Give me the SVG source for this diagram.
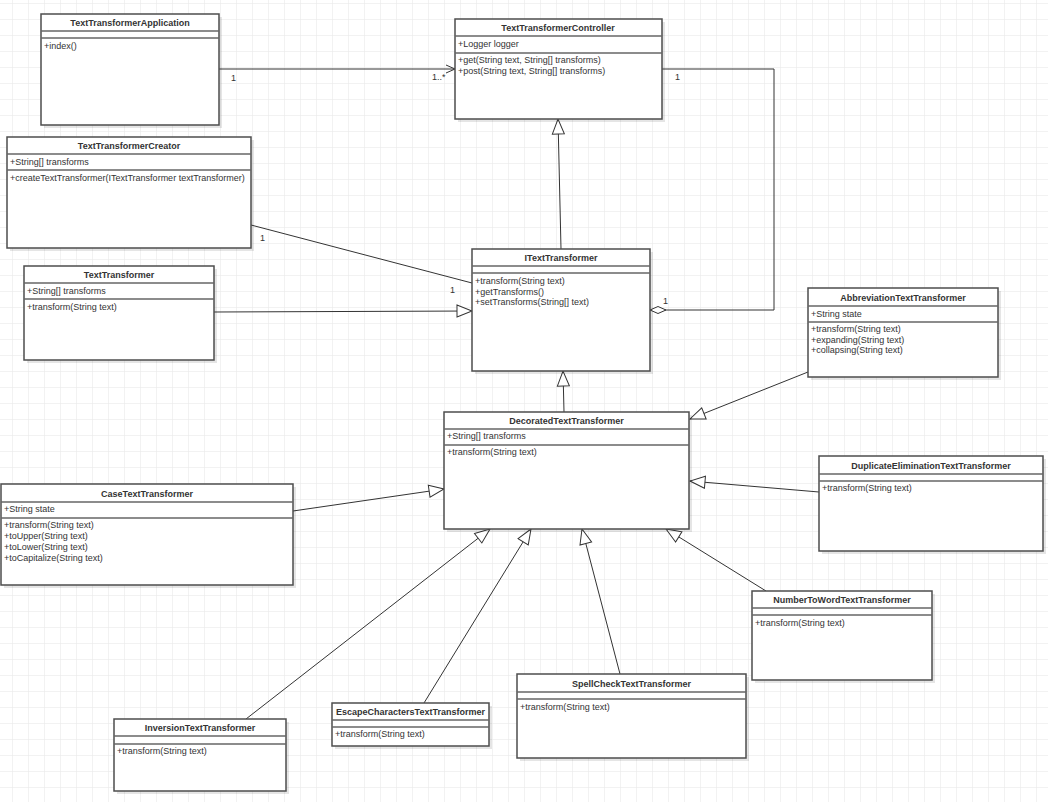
<svg xmlns="http://www.w3.org/2000/svg" width="1048" height="802" viewBox="0 0 1048 802">
<style>
.box{fill:#fff;stroke:#4d4d4d;stroke-width:1.5}
.sh{fill:#000;fill-opacity:0.1}
.sep{stroke:#666;stroke-width:1.5}
.title{font-family:"Liberation Sans",Arial,sans-serif;font-size:9px;font-weight:bold;fill:#333;text-anchor:middle}
.m{font-family:"Liberation Sans",Arial,sans-serif;font-size:9px;fill:#333}
.lbl{font-family:"Liberation Sans",Arial,sans-serif;font-size:9px;fill:#333}
.c{fill:none;stroke:#333;stroke-width:1}
.inh{marker-end:url(#tri)}
</style>
<defs>
<pattern id="grid" width="16" height="16" patternUnits="userSpaceOnUse" x="12" y="3">
<path d="M16 0H0V16" fill="none" stroke="#e6e6e6" stroke-width="1"/>
</pattern>
<marker id="tri" markerUnits="userSpaceOnUse" markerWidth="18" markerHeight="16" refX="15" refY="7" orient="auto" viewBox="-1 0 18 14">
<path d="M0,1 L15,7 L0,13 Z" fill="#fff" stroke="#333" stroke-width="1"/>
</marker>
<marker id="open" markerUnits="userSpaceOnUse" markerWidth="12" markerHeight="12" refX="10" refY="5" orient="auto" viewBox="0 0 12 10">
<path d="M1,1 L10,5 L1,9" fill="none" stroke="#333" stroke-width="1"/>
</marker>
<marker id="dia" markerUnits="userSpaceOnUse" markerWidth="20" markerHeight="10" refX="17" refY="5" orient="auto" viewBox="0 0 19 10">
<path d="M1,5 L9,1.5 L17,5 L9,8.5 Z" fill="#fff" stroke="#333" stroke-width="1"/>
</marker>
</defs>
<rect width="1048" height="802" fill="#fff"/>
<rect width="1048" height="802" fill="url(#grid)"/>

<g id="connectors">
<path class="c" d="M219,69 H455" marker-end="url(#open)"/>
<path class="c" d="M662,69 H774 V310 H650" marker-end="url(#dia)"/>
<path class="c inh" d="M561,249 L558,119"/>
<path class="c" d="M251,225 L472,283"/>
<path class="c inh" d="M214,312 L472,311"/>
<path class="c inh" d="M564,412 L563,371"/>
<path class="c inh" d="M808,372 L690,419"/>
<path class="c inh" d="M819,492 L690,481"/>
<path class="c inh" d="M293,511 L444,489"/>
<path class="c inh" d="M246,719 L490,529"/>
<path class="c inh" d="M424,703 L531,529"/>
<path class="c inh" d="M620,674 L582,529"/>
<path class="c inh" d="M766,591 L666,529"/>
<text class="lbl" x="231" y="80.5">1</text>
<text class="lbl" x="432" y="80">1..*</text>
<text class="lbl" x="675" y="80">1</text>
<text class="lbl" x="663" y="303.5">1</text>
<text class="lbl" x="260" y="240.5">1</text>
<text class="lbl" x="450" y="292.5">1</text>
</g>

<g id="TextTransformerApplication">
<rect class="sh" x="44" y="17" width="178" height="111"/>
<rect class="box" x="41" y="14" width="178" height="111"/>
<line class="sep" x1="41" y1="31" x2="219" y2="31"/>
<line class="sep" x1="41" y1="38" x2="219" y2="38"/>
<text class="title" x="130" y="25.5">TextTransformerApplication</text>
<text class="m" x="44" y="49">+index()</text>
</g>

<g id="TextTransformerController">
<rect class="sh" x="458" y="22" width="207" height="100"/>
<rect class="box" x="455" y="19" width="207" height="100"/>
<line class="sep" x1="455" y1="36" x2="662" y2="36"/>
<line class="sep" x1="455" y1="53" x2="662" y2="53"/>
<text class="title" x="558" y="31">TextTransformerController</text>
<text class="m" x="458" y="47">+Logger logger</text>
<text class="m" x="458" y="63">+get(String text, String[] transforms)</text>
<text class="m" x="458" y="74">+post(String text, String[] transforms)</text>
</g>

<g id="TextTransformerCreator">
<rect class="sh" x="10" y="140" width="244" height="111"/>
<rect class="box" x="7" y="137" width="244" height="111"/>
<line class="sep" x1="7" y1="154" x2="251" y2="154"/>
<line class="sep" x1="7" y1="170" x2="251" y2="170"/>
<text class="title" x="129" y="149">TextTransformerCreator</text>
<text class="m" x="10" y="165">+String[] transforms</text>
<text class="m" x="10" y="181">+createTextTransformer(ITextTransformer textTransformer)</text>
</g>

<g id="TextTransformer">
<rect class="sh" x="27" y="269" width="190" height="94"/>
<rect class="box" x="24" y="266" width="190" height="94"/>
<line class="sep" x1="24" y1="283" x2="214" y2="283"/>
<line class="sep" x1="24" y1="299" x2="214" y2="299"/>
<text class="title" x="119" y="278">TextTransformer</text>
<text class="m" x="27" y="294">+String[] transforms</text>
<text class="m" x="27" y="310">+transform(String text)</text>
</g>

<g id="ITextTransformer">
<rect class="sh" x="475" y="252" width="178" height="122"/>
<rect class="box" x="472" y="249" width="178" height="122"/>
<line class="sep" x1="472" y1="266" x2="650" y2="266"/>
<line class="sep" x1="472" y1="273" x2="650" y2="273"/>
<text class="title" x="561" y="261">ITextTransformer</text>
<text class="m" x="475" y="284">+transform(String text)</text>
<text class="m" x="475" y="294.5">+getTransforms()</text>
<text class="m" x="475" y="305">+setTransforms(String[] text)</text>
</g>

<g id="AbbreviationTextTransformer">
<rect class="sh" x="811" y="291" width="190" height="89"/>
<rect class="box" x="808" y="288" width="190" height="89"/>
<line class="sep" x1="808" y1="306" x2="998" y2="306"/>
<line class="sep" x1="808" y1="322" x2="998" y2="322"/>
<text class="title" x="903" y="300.5">AbbreviationTextTransformer</text>
<text class="m" x="811" y="316.5">+String state</text>
<text class="m" x="811" y="332">+transform(String text)</text>
<text class="m" x="811" y="343">+expanding(String text)</text>
<text class="m" x="811" y="353">+collapsing(String text)</text>
</g>

<g id="DecoratedTextTransformer">
<rect class="sh" x="447" y="415" width="245" height="117"/>
<rect class="box" x="444" y="412" width="245" height="117"/>
<line class="sep" x1="444" y1="429" x2="689" y2="429"/>
<line class="sep" x1="444" y1="445" x2="689" y2="445"/>
<text class="title" x="566.5" y="423.5">DecoratedTextTransformer</text>
<text class="m" x="447" y="439">+String[] transforms</text>
<text class="m" x="447" y="455">+transform(String text)</text>
</g>

<g id="CaseTextTransformer">
<rect class="sh" x="4" y="487" width="292" height="101"/>
<rect class="box" x="1" y="484" width="292" height="101"/>
<line class="sep" x1="1" y1="502" x2="293" y2="502"/>
<line class="sep" x1="1" y1="518" x2="293" y2="518"/>
<text class="title" x="147" y="496.5">CaseTextTransformer</text>
<text class="m" x="4" y="512">+String state</text>
<text class="m" x="4" y="528">+transform(String text)</text>
<text class="m" x="4" y="539">+toUpper(String text)</text>
<text class="m" x="4" y="549.5">+toLower(String text)</text>
<text class="m" x="4" y="560.5">+toCapitalize(String text)</text>
</g>

<g id="DuplicateEliminationTextTransformer">
<rect class="sh" x="822" y="459" width="224" height="95"/>
<rect class="box" x="819" y="456" width="224" height="95"/>
<line class="sep" x1="819" y1="474" x2="1043" y2="474"/>
<line class="sep" x1="819" y1="481" x2="1043" y2="481"/>
<text class="title" x="931" y="468.5">DuplicateEliminationTextTransformer</text>
<text class="m" x="822" y="491">+transform(String text)</text>
</g>

<g id="NumberToWordTextTransformer">
<rect class="sh" x="755" y="594" width="180" height="89"/>
<rect class="box" x="752" y="591" width="180" height="89"/>
<line class="sep" x1="752" y1="608" x2="932" y2="608"/>
<line class="sep" x1="752" y1="615" x2="932" y2="615"/>
<text class="title" x="842" y="603">NumberToWordTextTransformer</text>
<text class="m" x="755" y="625.5">+transform(String text)</text>
</g>

<g id="InversionTextTransformer">
<rect class="sh" x="117" y="722" width="172" height="72"/>
<rect class="box" x="114" y="719" width="172" height="72"/>
<line class="sep" x1="114" y1="736" x2="286" y2="736"/>
<line class="sep" x1="114" y1="744" x2="286" y2="744"/>
<text class="title" x="200" y="731">InversionTextTransformer</text>
<text class="m" x="117" y="754">+transform(String text)</text>
</g>

<g id="EscapeCharactersTextTransformer">
<rect class="sh" x="335" y="706" width="157" height="43"/>
<rect class="box" x="332" y="703" width="157" height="43"/>
<line class="sep" x1="332" y1="720" x2="489" y2="720"/>
<line class="sep" x1="332" y1="727" x2="489" y2="727"/>
<text class="title" x="410.5" y="715">EscapeCharactersTextTransformer</text>
<text class="m" x="335" y="737">+transform(String text)</text>
</g>

<g id="SpellCheckTextTransformer">
<rect class="sh" x="520" y="677" width="229" height="84"/>
<rect class="box" x="517" y="674" width="229" height="84"/>
<line class="sep" x1="517" y1="692" x2="746" y2="692"/>
<line class="sep" x1="517" y1="699" x2="746" y2="699"/>
<text class="title" x="631.5" y="686.5">SpellCheckTextTransformer</text>
<text class="m" x="520" y="709.5">+transform(String text)</text>
</g>
</svg>
